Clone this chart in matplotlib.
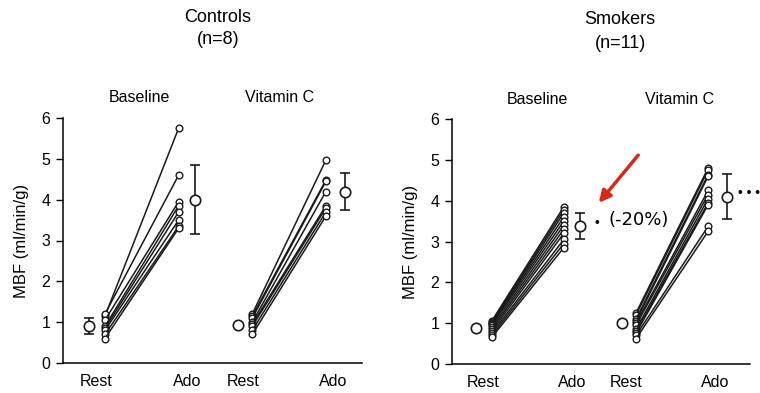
import numpy as np
import matplotlib.pyplot as plt

plt.rcParams['font.family'] = ['Liberation Sans', 'DejaVu Sans']

# Myocardial blood flow, individual subjects (ml/min/g)
ctrl_base_rest = [1.15, 1.2, 1.05, 0.9, 0.85, 0.8, 0.7, 0.6]
ctrl_base_ado = [5.75, 4.6, 3.95, 3.85, 3.7, 3.5, 3.35, 3.3]
ctrl_vitc_rest = [1.2, 1.15, 1.1, 1.0, 0.95, 0.9, 0.8, 0.7]
ctrl_vitc_ado = [4.97, 4.48, 4.45, 4.2, 3.85, 3.8, 3.7, 3.6]

smk_base_rest = [1.05, 1.02, 1.0, 0.98, 0.95, 0.9, 0.85, 0.8, 0.75, 0.7, 0.65]
smk_base_ado = [3.85, 3.78, 3.7, 3.6, 3.5, 3.4, 3.3, 3.2, 3.05, 2.95, 2.85]
smk_vitc_rest = [1.25, 1.2, 1.1, 1.05, 1.0, 0.95, 0.85, 0.8, 0.75, 0.7, 0.62]
smk_vitc_ado = [4.8, 4.75, 4.64, 4.6, 4.25, 4.15, 4.05, 3.95, 3.9, 3.37, 3.25]

# group means and error bars
ctrl_means = [0.9, 4.0, 0.94, 4.2]
ctrl_err = [0.2, 0.85, 0.0, 0.45]
smk_means = [0.88, 3.38, 1.0, 4.1]
smk_err = [0.0, 0.33, 0.0, 0.55]

mean_offsets = [-0.22, 0.22, -0.2, 0.26]
tick_pos = [0.88, 2.12, 2.87, 4.1]
tick_labels = ['Rest', 'Ado', 'Rest', 'Ado']

ink = '#1a1a1a'

fig = plt.figure(figsize=(7.6, 3.93), dpi=100)
ax1 = fig.add_axes([63 / 760, 1 - 363 / 393, 299 / 760, 245 / 393])
ax2 = fig.add_axes([452 / 760, 1 - 364 / 393, 298 / 760, 245 / 393])


def draw_panel(ax, rests, ados, means, errs, xlim):
    for i, (rest, ado) in enumerate(zip(rests, ados)):
        x0, x1 = 1 + 2 * i, 2 + 2 * i
        for r, a in zip(rest, ado):
            ax.plot([x0, x1], [r, a], color=ink, lw=1.1,
                    marker='o', ms=4.8, mfc='white', mec=ink, mew=1.0)
    for j, (m, e) in enumerate(zip(means, errs)):
        x = j + 1 + mean_offsets[j]
        if e > 0:
            ax.errorbar(x, m, yerr=e, fmt='none', ecolor=ink,
                        elinewidth=1.2, capsize=3.5, capthick=1.2)
        ax.plot(x, m, marker='o', ms=7.5, mfc='white', mec=ink, mew=1.2)
    ax.set_xlim(*xlim)
    ax.set_ylim(0, 6)
    ax.set_yticks(range(7))
    ax.set_xticks(tick_pos)
    ax.set_xticklabels(tick_labels, fontsize=11.5)
    ax.tick_params(axis='x', length=0, pad=8)
    ax.tick_params(axis='y', length=5, width=1.0, labelsize=11.5, pad=4)
    for s in ['top', 'right']:
        ax.spines[s].set_visible(False)
    ax.spines['left'].set_linewidth(1.1)
    ax.spines['bottom'].set_linewidth(1.1)
    ax.set_ylabel('MBF (ml/min/g)', fontsize=12, labelpad=9)


draw_panel(ax1, [ctrl_base_rest, ctrl_vitc_rest],
           [ctrl_base_ado, ctrl_vitc_ado], ctrl_means, ctrl_err, (0.43, 4.49))
draw_panel(ax2, [smk_base_rest, smk_vitc_rest],
           [smk_base_ado, smk_vitc_ado], smk_means, smk_err, (0.45, 4.58))

# significance markers
ax2.text(2.42, smk_means[1] + 0.08, '•', fontsize=10, ha='left', va='center')
ax2.text(4.42, smk_means[3] + 0.1, '• • •', fontsize=10, ha='left', va='center',
         clip_on=False)

# group headings
fig.text(218 / 760, 1 - 18 / 393, 'Controls', ha='center', va='center', fontsize=13)
fig.text(218 / 760, 1 - 40 / 393, '(n=8)', ha='center', va='center', fontsize=13)
fig.text(620 / 760, 1 - 20 / 393, 'Smokers', ha='center', va='center', fontsize=13)
fig.text(620 / 760, 1 - 43 / 393, '(n=11)', ha='center', va='center', fontsize=13)
for x, y, s in [(139, 97, 'Baseline'), (280, 97, 'Vitamin C'),
                (537, 100, 'Baseline'), (680, 100, 'Vitamin C')]:
    fig.text(x / 760, 1 - y / 393, s, ha='center', va='center', fontsize=11.5)

# highlighted reduction
fig.text(639 / 760, 1 - 220 / 393, '(-20%)', ha='center', va='center',
         fontsize=13, family='DejaVu Sans')
ax2.annotate('', xy=(597 / 760, 1 - 205 / 393), xytext=(640 / 760, 1 - 153 / 393),
             xycoords='figure fraction', textcoords='figure fraction',
             arrowprops=dict(arrowstyle='-|>,head_length=0.7,head_width=0.35',
                             color='#d42a1e', lw=2.5))

fig.savefig('out.png', dpi=100)
